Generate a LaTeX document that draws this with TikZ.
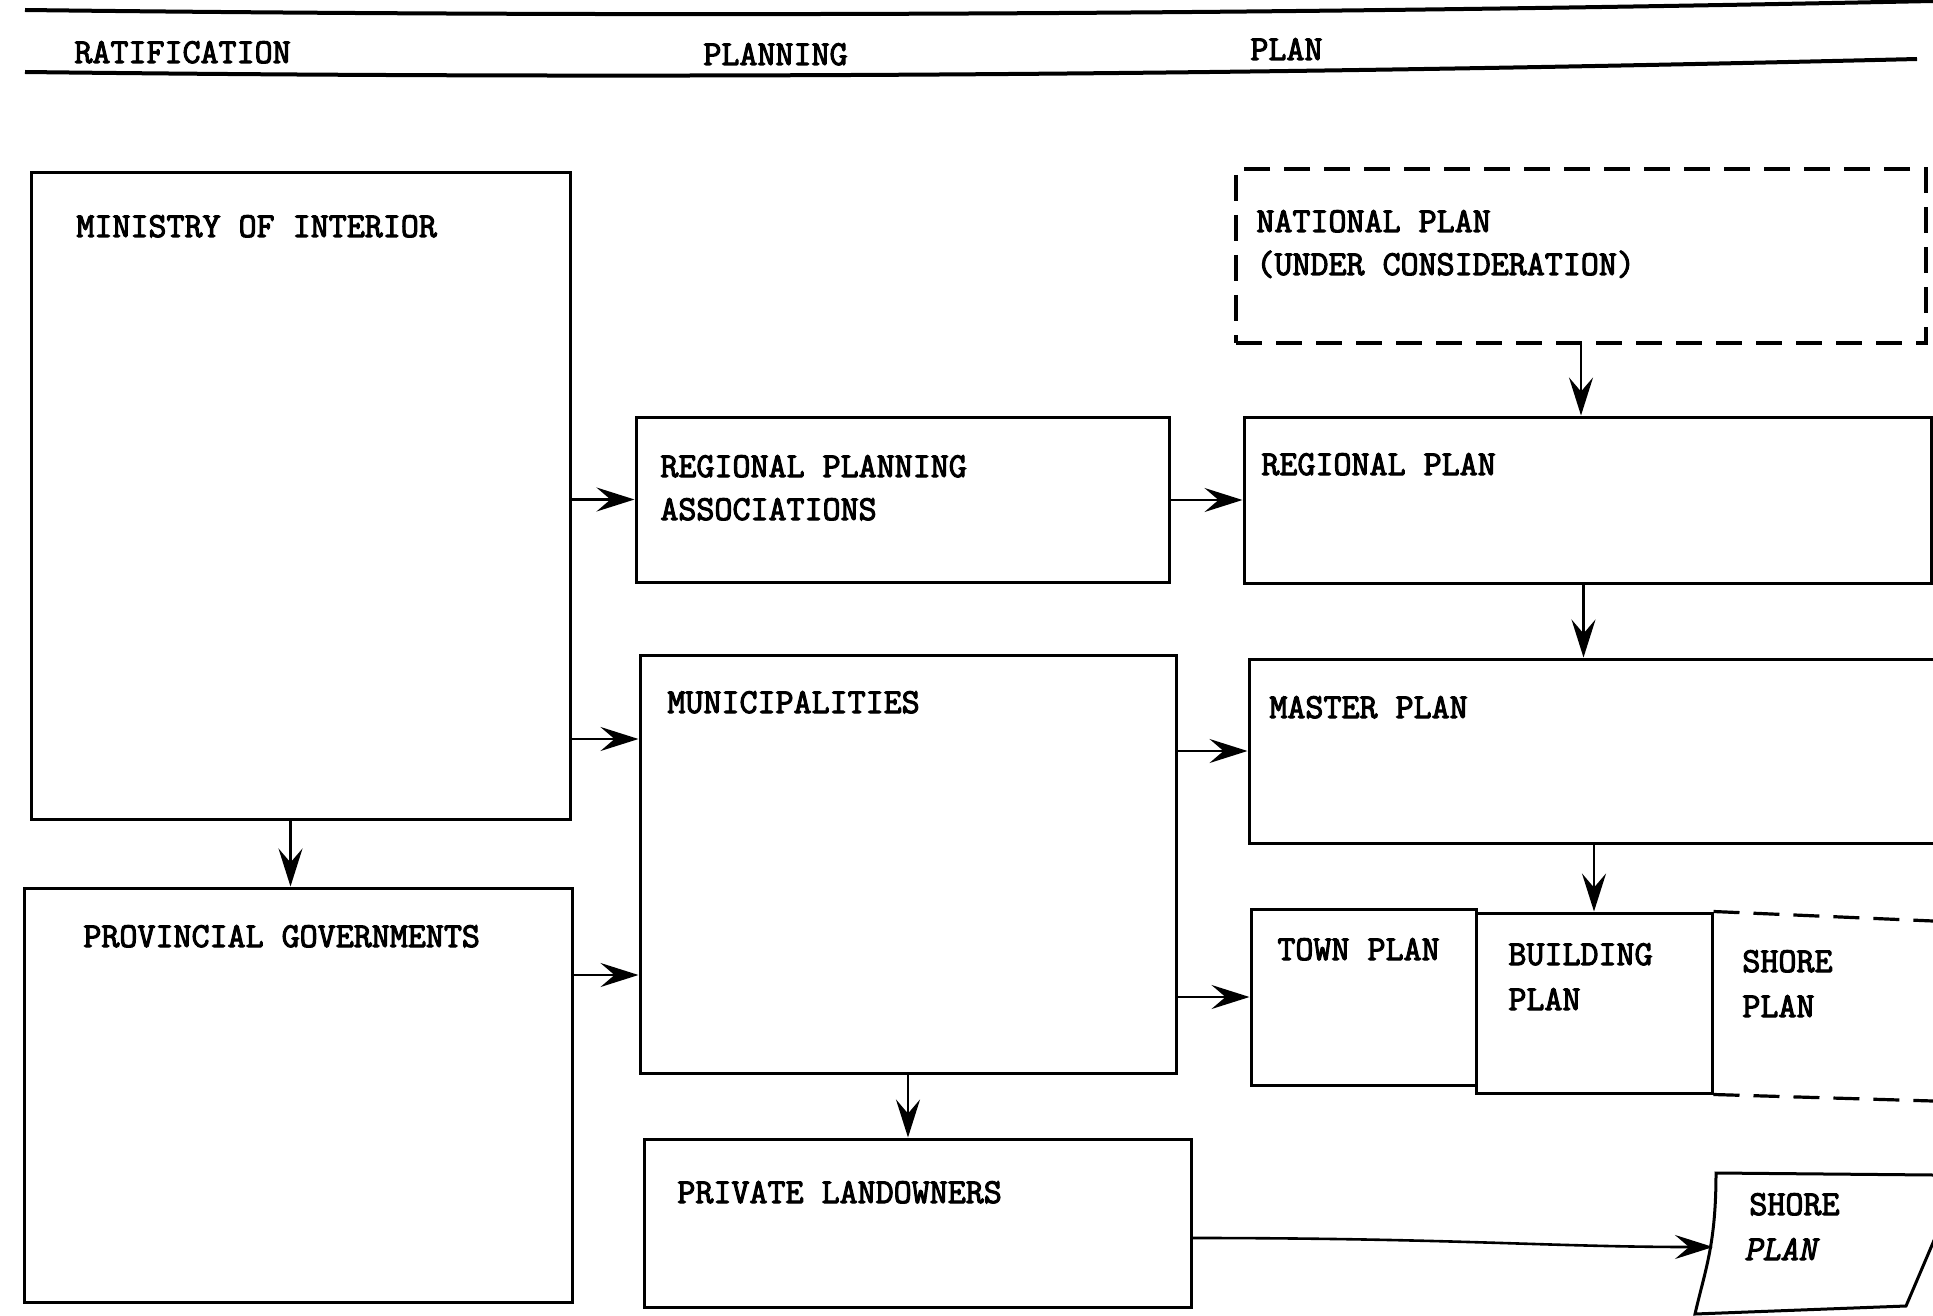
\documentclass[tikz,border=0pt]{standalone}
\usepackage{fontspec}
\newfontfamily\twfont[FakeBold=3]{Latin Modern Mono}
\newfontfamily\twfontit[FakeBold=3,FakeSlant=0.2]{Latin Modern Mono}
\usetikzlibrary{arrows.meta,fit}
\begin{document}
\begin{tikzpicture}[x=0.5pt,y=-0.5pt,
  pbox/.style={draw, line width=1.5pt, inner sep=0pt},
  dashline/.style={line width=1.6pt, dash pattern=on 13pt off 7pt},
  lbl/.style={anchor=base west, inner sep=0pt, font=\twfont\fontsize{17.5}{17.5}\selectfont},
  arr/.style={line width=1.3pt, -{Stealth[length=19pt,width=12pt,inset=7pt]}},
  hline/.style={line width=2pt}]
\fill[white] (0,0) rectangle (1933,1316);
\useasboundingbox (0,0) rectangle (1933,1316);

% header
\draw[hline] (25,10) .. controls (700,18) and (1300,14) .. (1933,1);
\draw[hline] (25,72) .. controls (700,80) and (1300,74) .. (1917,59);
\node[lbl] (h1) at (74,63) {RATIFICATION};
\node[lbl] (h2) at (703,65) {PLANNING};
\node[lbl] (h3) at (1250,60) {PLAN};

% boxes
\node[pbox, fit={(31,173) (570,819)}] (ministry) {};
\node[pbox, fit={(24,888) (572,1302)}] (prov) {};
\node[pbox, fit={(636,417) (1169,582)}] (rpa) {};
\node[pbox, fit={(640,655) (1176,1073)}] (muni) {};
\node[pbox, fit={(644,1139) (1191,1307)}] (private) {};
\node[draw, dashline, inner sep=0pt, fit={(1236,169) (1926,343)}] (national) {};
\node[pbox, fit={(1244,417) (1931,583)}] (regional) {};
\node[pbox, fit={(1249,659) (1960,843)}] (master) {};
\node[pbox, fit={(1251,909) (1476,1085)}] (town) {};
\node[pbox, fit={(1476,913) (1712,1093)}] (building) {};
\draw[dashline] (building.north east) -- (1933,921);
\draw[dashline] (building.south east) -- (1933,1101);
\draw[line width=1.5pt] (1933,1175) -- (1716,1173) .. controls (1716,1245) and (1705,1270) .. (1695,1314) -- (1906,1306) -- (1935,1238);
\coordinate (shorein) at (1713,1247);

% texts
\node[lbl] (t-min) at (76,237) {MINISTRY OF INTERIOR};
\node[lbl] (t-prov) at (83,947) {PROVINCIAL GOVERNMENTS};
\node[lbl] (t-rpa1) at (660,477) {REGIONAL PLANNING};
\node[lbl] (t-rpa2) at (660,520) {ASSOCIATIONS};
\node[lbl] (t-muni) at (667,713) {MUNICIPALITIES};
\node[lbl] (t-priv) at (677,1203) {PRIVATE LANDOWNERS};
\node[lbl] (t-nat1) at (1256,232) {NATIONAL PLAN};
\node[lbl] (t-nat2) at (1256,275) {(UNDER CONSIDERATION)};
\node[lbl] (t-reg) at (1261,475) {REGIONAL PLAN};
\node[lbl] (t-mas) at (1269,718) {MASTER PLAN};
\node[lbl] (t-town) at (1277,960) {TOWN PLAN};
\node[lbl] (t-bld1) at (1508,965) {BUILDING};
\node[lbl] (t-bld2) at (1508,1010) {PLAN};
\node[lbl] (t-sh1) at (1742,972) {SHORE};
\node[lbl] (t-sh2) at (1742,1017) {PLAN};
\node[lbl] (t-sh3) at (1749,1215) {SHORE};
\node[lbl, font=\twfontit\fontsize{17.5}{17.5}\selectfont] (t-sh4) at (1744,1260) {PLAN};

% connectors
\coordinate (muniA) at ([yshift=62.5pt]muni.west);
\coordinate (muniB) at ([yshift=-55.5pt]muni.west);
\coordinate (minS) at ([xshift=-5pt]ministry.south);
\draw[arr] (minS) -- (minS |- prov.north);
\draw[arr] (ministry.east |- rpa.west) -- (rpa.west);
\draw[arr] (ministry.east |- muniA) -- (muniA);
\draw[arr] (prov.east |- muniB) -- (muniB);
\draw[arr] (rpa.east |- regional.west) -- (regional.west);
\draw[arr] (muni.east |- master.west) -- (master.west);
\draw[arr] (muni.east |- town.west) -- (town.west);
\draw[arr] (national.south) -- (national.south |- regional.north);
\draw[arr] ([xshift=-2pt]regional.south) -- ([xshift=-2pt]regional.south |- master.north);
\draw[arr] (building.north |- master.south) -- (building.north);
\draw[arr] (muni.south) -- (muni.south |- private.north);
\draw[arr] ([yshift=-7.5pt]private.east) .. controls (1450,1238) and (1550,1247) .. (shorein);
\end{tikzpicture}
\end{document}
